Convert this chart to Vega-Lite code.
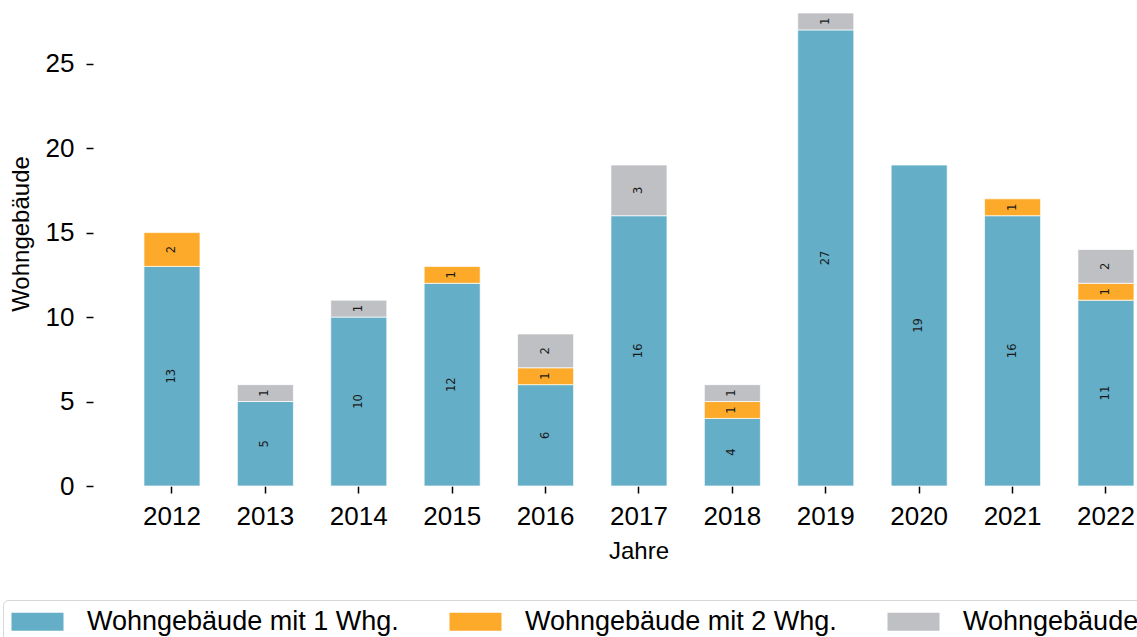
{
  "$schema": "https://vega.github.io/schema/vega-lite/v6.json",
  "autosize": {"type": "none"},
  "width": 1044,
  "height": 473,
  "padding": {"left": 93, "top": 13, "right": 0, "bottom": 151},
  "background": "white",
  "config": {
    "font": "Liberation Sans",
    "view": {"stroke": null},
    "axis": {"grid": false, "domain": false, "labelColor": "#000", "titleColor": "#000", "tickColor": "#000", "titleFontWeight": "normal"}
  },
  "data": {
    "values": [
      {"Jahr": "2012", "Kategorie": "Wohngebäude mit 1 Whg.", "Anzahl": 13},
      {"Jahr": "2012", "Kategorie": "Wohngebäude mit 2 Whg.", "Anzahl": 2},
      {"Jahr": "2013", "Kategorie": "Wohngebäude mit 1 Whg.", "Anzahl": 5},
      {"Jahr": "2013", "Kategorie": "Wohngebäude mit 3 und mehr Whg.", "Anzahl": 1},
      {"Jahr": "2014", "Kategorie": "Wohngebäude mit 1 Whg.", "Anzahl": 10},
      {"Jahr": "2014", "Kategorie": "Wohngebäude mit 3 und mehr Whg.", "Anzahl": 1},
      {"Jahr": "2015", "Kategorie": "Wohngebäude mit 1 Whg.", "Anzahl": 12},
      {"Jahr": "2015", "Kategorie": "Wohngebäude mit 2 Whg.", "Anzahl": 1},
      {"Jahr": "2016", "Kategorie": "Wohngebäude mit 1 Whg.", "Anzahl": 6},
      {"Jahr": "2016", "Kategorie": "Wohngebäude mit 2 Whg.", "Anzahl": 1},
      {"Jahr": "2016", "Kategorie": "Wohngebäude mit 3 und mehr Whg.", "Anzahl": 2},
      {"Jahr": "2017", "Kategorie": "Wohngebäude mit 1 Whg.", "Anzahl": 16},
      {"Jahr": "2017", "Kategorie": "Wohngebäude mit 3 und mehr Whg.", "Anzahl": 3},
      {"Jahr": "2018", "Kategorie": "Wohngebäude mit 1 Whg.", "Anzahl": 4},
      {"Jahr": "2018", "Kategorie": "Wohngebäude mit 2 Whg.", "Anzahl": 1},
      {"Jahr": "2018", "Kategorie": "Wohngebäude mit 3 und mehr Whg.", "Anzahl": 1},
      {"Jahr": "2019", "Kategorie": "Wohngebäude mit 1 Whg.", "Anzahl": 27},
      {"Jahr": "2019", "Kategorie": "Wohngebäude mit 3 und mehr Whg.", "Anzahl": 1},
      {"Jahr": "2020", "Kategorie": "Wohngebäude mit 1 Whg.", "Anzahl": 19},
      {"Jahr": "2021", "Kategorie": "Wohngebäude mit 1 Whg.", "Anzahl": 16},
      {"Jahr": "2021", "Kategorie": "Wohngebäude mit 2 Whg.", "Anzahl": 1},
      {"Jahr": "2022", "Kategorie": "Wohngebäude mit 1 Whg.", "Anzahl": 11},
      {"Jahr": "2022", "Kategorie": "Wohngebäude mit 2 Whg.", "Anzahl": 1},
      {"Jahr": "2022", "Kategorie": "Wohngebäude mit 3 und mehr Whg.", "Anzahl": 2}
    ]
  },
  "transform": [
    {"stack": "Anzahl", "groupby": ["Jahr"], "sort": [{"field": "Kategorie", "order": "ascending"}], "as": ["y0", "y1"]}
  ],
  "encoding": {
    "x": {
      "field": "Jahr", "type": "ordinal",
      "scale": {"paddingInner": 0.4, "paddingOuter": 0.289, "align": 0.944},
      "axis": {
        "title": "Jahre", "titleFontSize": 24, "titleX": 545.5, "titleY": 72, "titleBaseline": "alphabetic", "titleAlign": "center", "titleAnchor": null,
        "labelFontSize": 26, "labelAngle": 0, "labelPadding": 10, "tickSize": 7, "tickWidth": 1.5
      }
    }
  },
  "layer": [
    {
      "mark": {"type": "bar", "stroke": "white", "strokeWidth": 1, "strokeOpacity": 0.7},
      "encoding": {
        "y": {
          "field": "y0", "type": "quantitative",
          "scale": {"domain": [0, 28], "nice": false, "zero": true},
          "axis": {
            "title": "Wohngebäude", "titleFontSize": 24, "titleAngle": 270, "titleX": -65, "titleY": 220.5, "titleBaseline": "alphabetic", "titleAlign": "center", "titleAnchor": null,
            "values": [0, 5, 10, 15, 20, 25], "labelFontSize": 26, "labelPadding": 12, "tickSize": 7, "tickWidth": 1.5
          }
        },
        "y2": {"field": "y1"},
        "color": {
          "field": "Kategorie", "type": "nominal",
          "scale": {
            "domain": ["Wohngebäude mit 1 Whg.", "Wohngebäude mit 2 Whg.", "Wohngebäude mit 3 und mehr Whg."],
            "range": ["#64AEC7", "#FDAA2A", "#BFC0C4"]
          },
          "legend": {
            "title": null, "orient": "none", "direction": "horizontal", "columns": 3,
            "legendX": -90, "legendY": 587,
            "padding": 8, "strokeColor": "#d6d6d6", "cornerRadius": 5, "fillColor": "white",
            "labelFontSize": 27, "labelColor": "#000", "labelOffset": 49, "columnPadding": 50,
            "symbolType": "M-1,-0.7H3V0.7H-1Z", "symbolSize": 676, "symbolStrokeWidth": 0, "symbolOpacity": 1,
            "labelLimit": 600
          }
        }
      }
    },
    {
      "transform": [
        {"fold": ["y0", "y1"], "as": ["Grenze", "Wert"]},
        {"aggregate": [{"op": "mean", "field": "Wert", "as": "Mitte"}], "groupby": ["Jahr", "Kategorie", "Anzahl"]}
      ],
      "mark": {"type": "text", "angle": 270, "font": "DejaVu Sans", "fontSize": 11.5, "color": "#1a1a1a", "align": "center", "baseline": "middle"},
      "encoding": {
        "y": {"field": "Mitte", "type": "quantitative"},
        "text": {"field": "Anzahl", "type": "quantitative"}
      }
    }
  ]
}
